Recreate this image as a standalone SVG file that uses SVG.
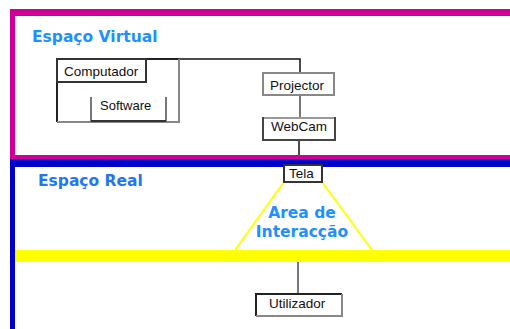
<svg xmlns="http://www.w3.org/2000/svg" width="510" height="329" viewBox="0 0 510 329">
<style>
.title{font-family:"DejaVu Sans",Verdana,sans-serif;font-weight:bold;font-size:15.5px;fill:#1E90FF}
.lbl{font-family:"Liberation Sans",Arial,sans-serif;font-size:13.5px;fill:#111}
.box{fill:#fff;stroke:#333;stroke-width:2}
.gbox{fill:#fff;stroke:#888;stroke-width:2}
.conn{fill:none;stroke:#111;stroke-width:1.5}
.gconn{fill:none;stroke:#777;stroke-width:2}
.ylw{fill:none;stroke:#ffff00;stroke-width:2}
</style>
<rect width="510" height="329" fill="#fff"/>
<g id="espaco-virtual">
<rect x="10" y="9" width="500" height="7" fill="#cc0099"/>
<rect x="10" y="9" width="5" height="149" fill="#cc0099"/>
<rect x="10" y="155" width="500" height="4" fill="#cc0099"/>
<text class="title" x="32" y="42">Espaço Virtual</text>
</g>
<g id="espaco-real">
<rect x="10" y="159" width="500" height="8" fill="#0000cc"/>
<rect x="10" y="159" width="5" height="170" fill="#0000cc"/>
<text class="title" x="38" y="186" style="fill:#2277ee">Espaço Real</text>
</g>
<g id="faixa">
<rect x="15" y="250" width="495" height="12" fill="#ffff00"/>
</g>
<g id="connectors">
<path class="conn" d="M179 59 H300 V73"/>
<path class="gconn" d="M300 95 V118"/>
<path class="conn" d="M299 140 V155"/>
<path class="ylw" d="M284 182 L235 250"/>
<path class="ylw" d="M322 182 L372 250"/>
<path class="gconn" d="M298 262 V294"/>
</g>
<g id="computador">
<path d="M57 122 V59 H179" fill="none" stroke="#222" stroke-width="2"/>
<path d="M179 59 V122 H57" fill="none" stroke="#888" stroke-width="2"/>
<rect class="box" x="57" y="59" width="89" height="23"/>
<text class="lbl" x="64" y="76">Computador</text>
</g>
<g id="software">
<path d="M91 97 V121 H166 V97" fill="none" stroke="#777" stroke-width="2"/>
<path d="M91 121 H166" fill="none" stroke="#333" stroke-width="2"/>
<text class="lbl" x="100" y="110" style="font-size:13px">Software</text>
</g>
<g id="projector">
<rect class="gbox" x="263" y="73" width="71" height="22"/>
<text class="lbl" x="270" y="90">Projector</text>
</g>
<g id="webcam">
<rect class="box" x="263" y="118" width="72" height="22" style="stroke:#444"/>
<path d="M264 118 H334" stroke="#999" stroke-width="2"/>
<text class="lbl" x="271" y="131">WebCam</text>
</g>
<g id="tela">
<rect class="box" x="284" y="165" width="38" height="17"/>
<text class="lbl" x="289" y="178">Tela</text>
</g>
<g id="area-interaccao">
<text class="title" x="302" y="218" text-anchor="middle" style="font-size:15.5px">Area de</text>
<text class="title" x="302" y="236.5" text-anchor="middle" style="font-size:15.5px">Interacção</text>
</g>
<g id="utilizador">
<path d="M256 316 V294 H342" fill="none" stroke="#222" stroke-width="2"/>
<path d="M342 294 V316 H256" fill="none" stroke="#888" stroke-width="2"/>
<text class="lbl" x="269" y="308">Utilizador</text>
</g>
</svg>
